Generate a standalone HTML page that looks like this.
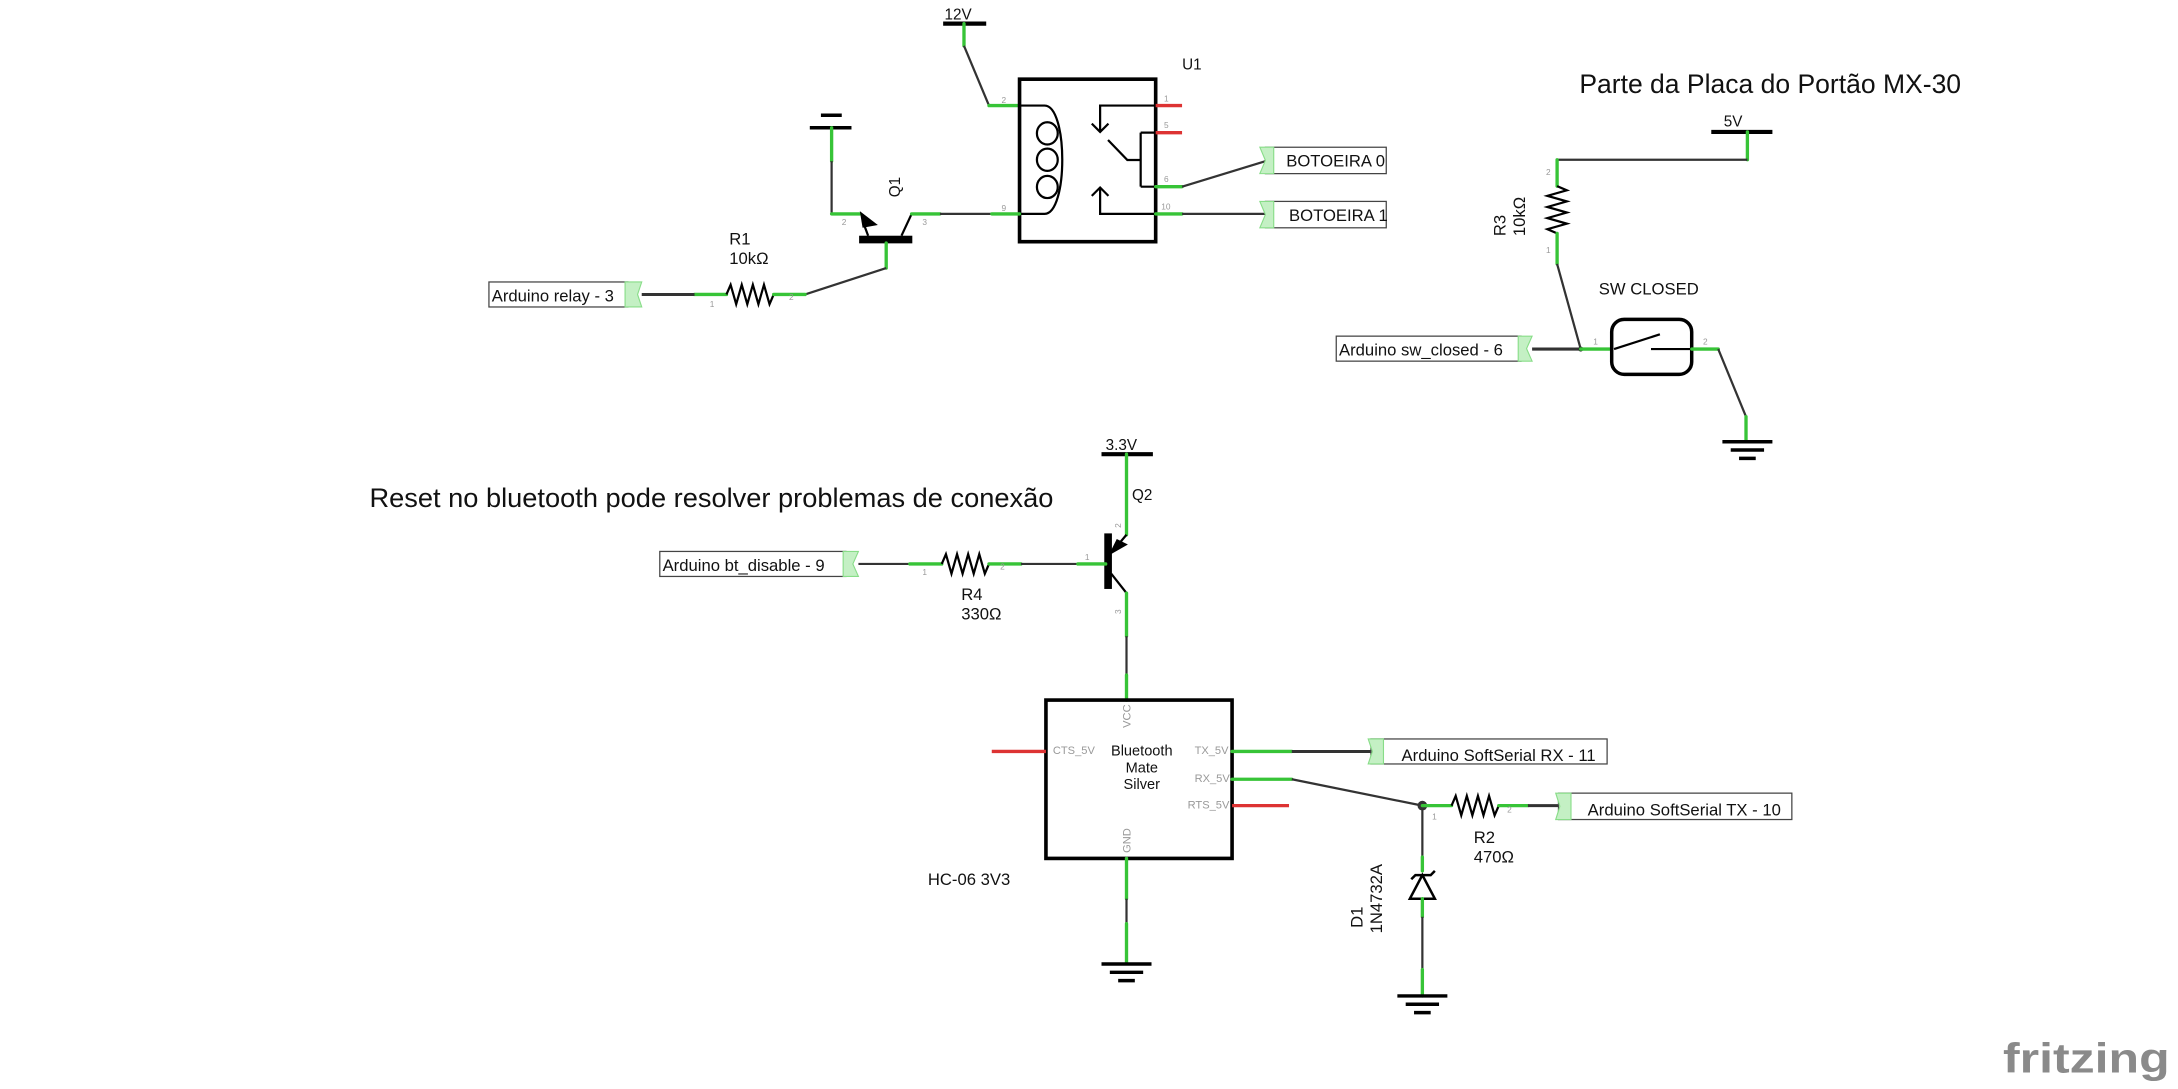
<!DOCTYPE html>
<html><head><meta charset="utf-8"><style>
html,body{margin:0;padding:0;background:#fff;}
svg{display:block}
text{font-family:"Liberation Sans",sans-serif;fill:#111}
.w{stroke:#333;stroke-width:1.6;fill:none}
.g{stroke:#37c437;stroke-width:2.4;fill:none;stroke-linecap:round}
.r{stroke:#d33;stroke-width:2.4;fill:none}
.k{stroke:#000;stroke-width:1.6;fill:none}
.pn{font-size:6px;fill:#999}
.lb{fill:#fff;stroke:#444;stroke-width:0.9}
.fl{fill:#c4f0c4;stroke:#8d8;stroke-width:0.8}
</style></head><body>
<svg width="2178" height="1089" viewBox="0 0 1568 784" xmlns="http://www.w3.org/2000/svg">
<rect width="1568" height="784" fill="#fff"/>

<!-- ===== TOP: relay ===== -->
<text x="680" y="14" font-size="11">12V</text>
<line x1="679" y1="17" x2="710" y2="17" stroke="#000" stroke-width="3"/>
<line class="g" x1="694" y1="17" x2="694" y2="33"/>
<line class="w" x1="694" y1="33" x2="712" y2="76"/>
<line class="g" x1="712" y1="76" x2="734" y2="76"/>
<text class="pn" x="721" y="74">2</text>

<rect x="734" y="57" width="98" height="117" fill="none" stroke="#000" stroke-width="2.6"/>
<text x="851" y="50" font-size="11">U1</text>
<!-- coil -->
<path class="k" d="M734 76 H752 C769 76 769 154 752 154 H734"/>
<ellipse class="k" cx="754" cy="96" rx="7.5" ry="8"/>
<ellipse class="k" cx="754" cy="115" rx="7.5" ry="8"/>
<ellipse class="k" cx="754" cy="134.6" rx="7.5" ry="8"/>
<!-- contacts -->
<path class="k" d="M832 76 H792 V95 M786 89 L792 95 L798 89"/>
<path class="k" d="M797.7 100.8 L811.6 115.2 H821.2 M821.2 95.5 V134.4 M821.2 95.5 H832 M821.2 134.4 H832"/>
<path class="k" d="M832 154 H792 V135 M786 141 L792 135 L798 141"/>
<line class="r" x1="832" y1="76" x2="851" y2="76"/>
<line class="r" x1="832" y1="95.5" x2="851" y2="95.5"/>
<line class="g" x1="832" y1="134.4" x2="851" y2="134.4"/>
<line class="g" x1="832" y1="154" x2="851" y2="154"/>
<text class="pn" x="838" y="73">1</text><text class="pn" x="838" y="92">5</text>
<text class="pn" x="838" y="131">6</text><text class="pn" x="836" y="151">10</text>
<line class="w" x1="851" y1="134.4" x2="911" y2="116"/>
<line class="w" x1="851" y1="154" x2="911" y2="154"/>
<rect class="lb" x="911" y="106" width="87" height="19"/>
<path class="fl" d="M907 106 H917 V125 H907 L911 115.5 Z"/>
<text x="926" y="120" font-size="12">BOTOEIRA 0</text>
<rect class="lb" x="911" y="145" width="87" height="19"/>
<path class="fl" d="M907 145 H917 V164 H907 L911 154.5 Z"/>
<text x="928" y="159" font-size="12">BOTOEIRA 1</text>

<!-- ground (top) -->
<line x1="591" y1="83" x2="606" y2="83" stroke="#000" stroke-width="2.5"/>
<line x1="583" y1="92" x2="613" y2="92" stroke="#000" stroke-width="2.5"/>
<line class="g" x1="598.7" y1="92" x2="598.7" y2="116"/>
<line class="w" x1="598.7" y1="116" x2="598.7" y2="154"/>
<line class="g" x1="598.7" y1="154" x2="619" y2="154"/>
<text class="pn" x="606" y="162">2</text>
<!-- Q1 -->
<rect x="618.5" y="169.7" width="38.3" height="5.5" fill="#000"/>
<line class="k" x1="625" y1="169.7" x2="621" y2="159"/>
<path d="M619 152 L632 162 L621 164 Z" fill="#000"/>
<line class="k" x1="649" y1="169.7" x2="656.3" y2="154"/>
<line class="g" x1="656.3" y1="154" x2="676.7" y2="154"/>
<line class="w" x1="676.7" y1="154" x2="714" y2="154"/>
<line class="g" x1="714" y1="154" x2="734" y2="154"/>
<text class="pn" x="664" y="162">3</text><text class="pn" x="721" y="152">9</text>
<line class="g" x1="638" y1="175" x2="638" y2="193"/>
<line class="w" x1="638" y1="193" x2="579.6" y2="212"/>
<text x="0" y="0" font-size="11" transform="translate(648,142) rotate(-90)">Q1</text>
<!-- R1 -->
<line class="g" x1="500" y1="212" x2="523" y2="212"/>
<polyline class="k" points="523,212 526,205 530,219 534,205 538,219 542,205 546,219 550,205 554,219 557,212"/>
<line class="g" x1="557" y1="212" x2="579.6" y2="212"/>
<text class="pn" x="511" y="221">1</text><text class="pn" x="568" y="216">2</text>
<text x="525" y="176" font-size="12">R1</text>
<text x="525" y="190" font-size="12">10kΩ</text>
<line x1="462" y1="212" x2="500" y2="212" stroke="#333" stroke-width="2.2"/>
<rect class="lb" x="352" y="203" width="100" height="18"/>
<path class="fl" d="M450 203 H462 L459 212 L462 221 H450 Z"/>
<text x="354" y="217" font-size="12">Arduino relay - 3</text>

<!-- ===== RIGHT ===== -->
<text x="1137" y="67" font-size="19.1">Parte da Placa do Portão MX-30</text>
<text x="1241" y="91" font-size="11">5V</text>
<line x1="1232" y1="95" x2="1276" y2="95" stroke="#000" stroke-width="3"/>
<line class="g" x1="1258" y1="95" x2="1258" y2="115"/>
<line class="w" x1="1258" y1="115" x2="1121" y2="115"/>
<line class="g" x1="1121" y1="115" x2="1121" y2="134"/>
<polyline class="k" points="1121,134 1128,137 1114,141 1128,145 1114,149 1128,153 1114,157 1128,161 1114,165 1121,168"/>
<line class="g" x1="1121" y1="168" x2="1121" y2="190"/>
<text class="pn" x="1113" y="126">2</text><text class="pn" x="1113" y="182">1</text>
<text font-size="12" transform="translate(1084,170) rotate(-90)">R3</text>
<text font-size="12" transform="translate(1098,170) rotate(-90)">10kΩ</text>
<line class="w" x1="1121" y1="190" x2="1138" y2="251.3"/>
<line x1="1103" y1="251.3" x2="1138" y2="251.3" stroke="#333" stroke-width="2.2"/>
<circle cx="1138" cy="251.3" r="1.8" fill="#333"/>
<line class="g" x1="1138" y1="251.3" x2="1160" y2="251.3"/>
<text x="1151" y="212" font-size="12">SW CLOSED</text>
<rect x="1160.3" y="229.9" width="57.6" height="39.6" rx="9" fill="none" stroke="#000" stroke-width="2.5"/>
<line class="k" x1="1162" y1="251.3" x2="1195" y2="240.7"/>
<line class="k" x1="1188.6" y1="251.3" x2="1218" y2="251.3"/>
<text class="pn" x="1147" y="248">1</text><text class="pn" x="1226" y="248">2</text>
<line class="g" x1="1218" y1="251.3" x2="1237" y2="251.3"/>
<line class="w" x1="1237" y1="251.3" x2="1257" y2="300"/>
<line class="g" x1="1257" y1="300" x2="1257" y2="318"/>
<line x1="1240" y1="318" x2="1276" y2="318" stroke="#000" stroke-width="2.5"/>
<line x1="1246" y1="324" x2="1270" y2="324" stroke="#000" stroke-width="2.5"/>
<line x1="1252" y1="330" x2="1264" y2="330" stroke="#000" stroke-width="2.5"/>
<rect class="lb" x="962" y="242" width="133" height="18"/>
<path class="fl" d="M1093 242 H1103 L1099 251 L1103 260 H1093 Z"/>
<text x="964" y="256" font-size="12">Arduino sw_closed - 6</text>

<!-- ===== BOTTOM ===== -->
<text x="266" y="365" font-size="19.6">Reset no bluetooth pode resolver problemas de conexão</text>
<text x="796" y="324" font-size="11">3.3V</text>
<line x1="793" y1="327" x2="830" y2="327" stroke="#000" stroke-width="3"/>
<line class="g" x1="811" y1="327" x2="811" y2="385"/>
<text x="815" y="360" font-size="11">Q2</text>
<text class="pn" transform="translate(807,380) rotate(-90)">2</text>
<rect x="795" y="384" width="5.5" height="40" fill="#000"/>
<line class="k" x1="800" y1="398" x2="811" y2="385"/>
<path d="M798 400 L812 392 L804 388 Z" fill="#000"/>
<line class="k" x1="800" y1="413" x2="811" y2="427"/>
<line class="g" x1="811" y1="427" x2="811" y2="458"/>
<text class="pn" transform="translate(807,442) rotate(-90)">3</text>
<line class="w" x1="811" y1="458" x2="811" y2="486"/>
<line class="g" x1="811" y1="486" x2="811" y2="504"/>
<!-- R4 -->
<line class="w" x1="618" y1="406" x2="655" y2="406"/>
<line class="g" x1="655" y1="406" x2="678" y2="406"/>
<polyline class="k" points="678,406 681,399 685,413 689,399 693,413 697,399 701,413 705,399 709,413 712,406"/>
<line class="g" x1="712" y1="406" x2="735" y2="406"/>
<line class="w" x1="735" y1="406" x2="776" y2="406"/>
<line class="g" x1="776" y1="406" x2="796" y2="406"/>
<text class="pn" x="664" y="414">1</text><text class="pn" x="720" y="410">2</text><text class="pn" x="781" y="403">1</text>
<text x="692" y="432" font-size="12">R4</text>
<text x="692" y="446" font-size="12">330Ω</text>
<rect class="lb" x="475" y="397" width="134" height="18"/>
<path class="fl" d="M607 397 H618 L614 406 L618 415 H607 Z"/>
<text x="477" y="411" font-size="12">Arduino bt_disable - 9</text>

<!-- BT module -->
<rect x="753" y="504" width="134" height="114" fill="none" stroke="#000" stroke-width="2.6"/>
<text font-size="8" style="fill:#999" transform="translate(814,524) rotate(-90)">VCC</text>
<text font-size="8" style="fill:#999" transform="translate(814,614) rotate(-90)">GND</text>
<text x="758" y="543" font-size="8" style="fill:#999">CTS_5V</text>
<text x="860" y="543" font-size="8" style="fill:#999">TX_5V</text>
<text x="860" y="563" font-size="8" style="fill:#999">RX_5V</text>
<text x="855" y="582" font-size="8" style="fill:#999">RTS_5V</text>
<text x="822" y="544" font-size="10.5" text-anchor="middle">Bluetooth</text>
<text x="822" y="556" font-size="10.5" text-anchor="middle">Mate</text>
<text x="822" y="568" font-size="10.5" text-anchor="middle">Silver</text>
<text x="668" y="637" font-size="12">HC-06 3V3</text>
<line class="r" x1="714" y1="541" x2="753" y2="541"/>
<line class="g" x1="887" y1="541" x2="930" y2="541"/>
<line x1="930" y1="541" x2="987" y2="541" stroke="#333" stroke-width="2.2"/>
<line class="g" x1="887" y1="561" x2="930" y2="561"/>
<line class="w" x1="930" y1="561" x2="1024" y2="580"/>
<line class="r" x1="887" y1="580" x2="928" y2="580"/>
<circle cx="1024" cy="580" r="3.5" fill="#333"/>
<rect class="lb" x="987" y="532" width="170" height="18"/>
<path class="fl" d="M985 532 H996 V550 H985 L988 541 Z"/>
<text x="1009" y="548" font-size="12">Arduino SoftSerial RX - 11</text>
<!-- R2 -->
<line class="g" x1="1024" y1="580" x2="1045" y2="580"/>
<polyline class="k" points="1045,580 1048,573 1052,587 1056,573 1060,587 1064,573 1068,587 1072,573 1076,587 1079,580"/>
<line class="g" x1="1079" y1="580" x2="1100" y2="580"/>
<line x1="1100" y1="580" x2="1122" y2="580" stroke="#333" stroke-width="2.2"/>
<text class="pn" x="1031" y="590">1</text><text class="pn" x="1085" y="585">2</text>
<text x="1061" y="607" font-size="12">R2</text>
<text x="1061" y="621" font-size="12">470Ω</text>
<rect class="lb" x="1122" y="571" width="168" height="19"/>
<path class="fl" d="M1120 571 H1131 V590 H1120 L1123 580.5 Z"/>
<text x="1143" y="587" font-size="12">Arduino SoftSerial TX - 10</text>
<!-- D1 -->
<line class="w" x1="1024" y1="583" x2="1024" y2="617"/>
<line class="g" x1="1024" y1="617" x2="1024" y2="627"/>
<path d="M1015 647 H1033 L1024 630 Z M1016 633 L1019 630 H1030 L1033 627" fill="none" stroke="#000" stroke-width="1.8"/>
<line class="g" x1="1024" y1="647" x2="1024" y2="660"/>
<line class="w" x1="1024" y1="660" x2="1024" y2="698"/>
<line class="g" x1="1024" y1="698" x2="1024" y2="717"/>
<text font-size="12" transform="translate(981,668) rotate(-90)">D1</text>
<text font-size="12" transform="translate(995,672) rotate(-90)">1N4732A</text>
<line x1="1006" y1="717" x2="1042" y2="717" stroke="#000" stroke-width="2.5"/>
<line x1="1012" y1="723" x2="1036" y2="723" stroke="#000" stroke-width="2.5"/>
<line x1="1018" y1="729" x2="1030" y2="729" stroke="#000" stroke-width="2.5"/>
<!-- BT GND -->
<line class="g" x1="811" y1="618" x2="811" y2="647"/>
<line class="w" x1="811" y1="647" x2="811" y2="665"/>
<line class="g" x1="811" y1="665" x2="811" y2="693"/>
<line x1="793" y1="694" x2="829" y2="694" stroke="#000" stroke-width="2.5"/>
<line x1="799" y1="700" x2="823" y2="700" stroke="#000" stroke-width="2.5"/>
<line x1="805" y1="706" x2="817" y2="706" stroke="#000" stroke-width="2.5"/>

<text x="1442" y="772" font-size="30" font-weight="bold" style="fill:#8a8a8a" textLength="120" lengthAdjust="spacingAndGlyphs">fritzing</text>
</svg>
</body></html>
